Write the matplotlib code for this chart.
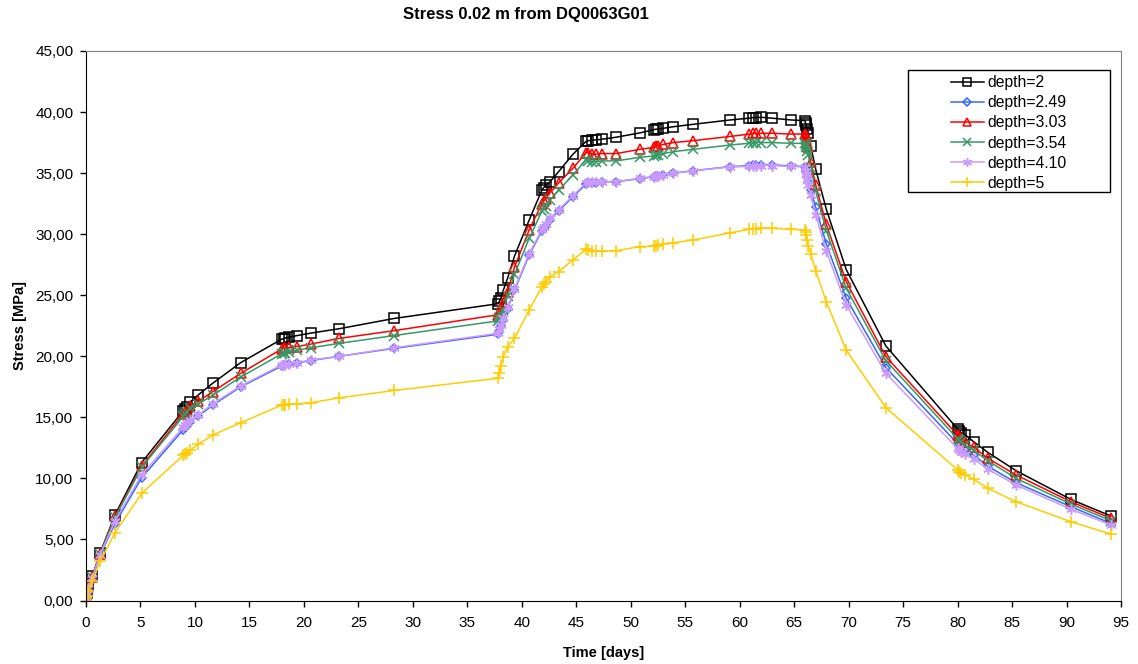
import matplotlib
matplotlib.use("Agg")
import matplotlib.pyplot as plt
from matplotlib.patches import Rectangle
from matplotlib.ticker import FuncFormatter, MultipleLocator

plt.rcParams['font.family'] = ['Liberation Sans', 'DejaVu Sans']

# sample times [days], shared by all depths
time_days = [
    0, 0.04, 0.08, 0.21, 0.58, 1.29, 2.66, 5.11,
    8.94, 9.1, 9.25, 9.55, 10.3, 11.63, 14.2,
    17.96, 18.15, 18.3, 18.6, 19.34, 20.66, 23.26, 28.3,
    37.8, 37.95, 38.1, 38.3, 38.7, 39.33, 40.68,
    41.85, 42.0, 42.2, 42.6, 43.38, 44.7,
    45.9, 46.1, 46.4, 46.8, 47.35, 48.67, 50.87,
    52.1, 52.3, 52.5, 53.0, 53.92, 55.76, 59.1,
    60.9, 61.2, 61.5, 62.0, 62.96, 64.74, 66.0,
    66.05, 66.1, 66.2, 66.3, 66.52, 66.98, 67.95, 69.78,
    73.42, 80.0, 80.15, 80.3, 80.72, 81.48, 82.77, 85.37, 90.4, 94.07,
]

stress_d200 = [
    0, 0.35, 0.6, 1.15, 2.0, 3.87, 7.0, 11.3,
    15.55, 15.7, 15.85, 16.25, 16.83, 17.79, 19.48,
    21.4, 21.45, 21.5, 21.55, 21.69, 21.9, 22.26, 23.1,
    24.3, 24.5, 24.8, 25.4, 26.4, 28.2, 31.16,
    33.62, 33.8, 34.0, 34.3, 35.12, 36.55,
    37.6, 37.65, 37.7, 37.72, 37.77, 37.94, 38.3,
    38.55, 38.6, 38.6, 38.67, 38.8, 39.0, 39.35,
    39.5, 39.55, 39.55, 39.57, 39.5, 39.35, 39.3,
    39.1, 38.9, 38.6, 38.26, 37.22, 35.3, 32.04, 27.1,
    20.84, 14.05, 13.9, 13.75, 13.55, 13.0, 12.13, 10.63, 8.28, 6.92,
]

stress_d249 = [
    0, 0.3, 0.55, 1.05, 1.85, 3.7, 6.3, 10.06,
    14.0, 14.15, 14.3, 14.65, 15.1, 16.0, 17.5,
    19.2, 19.25, 19.3, 19.35, 19.45, 19.65, 20.0, 20.65,
    21.8, 22.1, 22.5, 23.0, 23.9, 25.4, 28.3,
    30.3, 30.5, 30.7, 31.2, 31.9, 33.07,
    34.1, 34.15, 34.15, 34.2, 34.3, 34.3, 34.55,
    34.7, 34.75, 34.8, 34.85, 34.99, 35.2, 35.53,
    35.6, 35.65, 35.65, 35.67, 35.67, 35.59, 35.53,
    35.3, 35.1, 34.7, 34.3, 33.6, 32.2, 29.2, 24.75,
    19.07, 12.85, 12.75, 12.6, 12.3, 11.9, 11.0, 9.65, 7.68, 6.32,
]

stress_d303 = [
    0, 0.33, 0.58, 1.12, 1.95, 3.82, 6.9, 11.0,
    15.3, 15.45, 15.6, 15.95, 16.3, 17.1, 18.6,
    20.6, 20.65, 20.7, 20.72, 20.8, 21.0, 21.47, 22.1,
    23.4, 23.6, 23.9, 24.4, 25.3, 27.3, 30.35,
    32.5, 32.7, 32.9, 33.4, 34.2, 35.4,
    36.68, 36.65, 36.6, 36.55, 36.6, 36.6, 36.95,
    37.1, 37.2, 37.25, 37.35, 37.5, 37.66, 38.0,
    38.2, 38.25, 38.25, 38.26, 38.26, 38.2, 38.2,
    38.1, 37.8, 37.5, 37.17, 35.9, 34.0, 30.8, 26.1,
    19.97, 13.55, 13.45, 13.3, 12.95, 12.55, 11.65, 10.28, 8.09, 6.73,
]

stress_d354 = [
    0, 0.32, 0.57, 1.1, 1.93, 3.8, 6.8, 10.9,
    15.1, 15.25, 15.4, 15.75, 16.1, 16.8, 18.3,
    20.2, 20.25, 20.3, 20.35, 20.5, 20.7, 21.06, 21.7,
    22.9, 23.1, 23.4, 23.8, 24.9, 26.7, 29.66,
    31.9, 32.1, 32.3, 32.8, 33.6, 34.85,
    36.1, 36.0, 35.95, 35.95, 36.0, 36.0, 36.3,
    36.4, 36.45, 36.5, 36.6, 36.76, 36.95, 37.3,
    37.45, 37.5, 37.5, 37.5, 37.5, 37.44, 37.44,
    37.3, 37.1, 36.8, 36.5, 35.4, 33.5, 30.3, 25.57,
    19.64, 13.25, 13.15, 13.0, 12.7, 12.3, 11.45, 10.0, 7.9, 6.54,
]

stress_d410 = [
    0, 0.3, 0.55, 1.06, 1.87, 3.75, 6.5, 10.3,
    14.2, 14.35, 14.5, 14.8, 15.2, 16.1, 17.57,
    19.29, 19.32, 19.35, 19.4, 19.47, 19.7, 20.0, 20.7,
    21.88, 22.2, 22.6, 23.1, 24.0, 25.5, 28.4,
    30.4, 30.6, 30.8, 31.3, 32.0, 33.15,
    34.2, 34.25, 34.25, 34.25, 34.3, 34.3, 34.58,
    34.72, 34.77, 34.8, 34.88, 34.99, 35.2, 35.5,
    35.55, 35.6, 35.6, 35.62, 35.62, 35.55, 35.5,
    35.2, 34.9, 34.4, 34.0, 33.2, 31.6, 28.6, 24.2,
    18.6, 12.45, 12.33, 12.2, 12.0, 11.6, 10.75, 9.46, 7.47, 6.18,
]

stress_d500 = [
    0, 0.2, 0.4, 0.8, 1.6, 3.2, 5.55, 8.78,
    11.9, 12.0, 12.1, 12.3, 12.8, 13.55, 14.56,
    16.0, 16.02, 16.05, 16.08, 16.1, 16.2, 16.6, 17.2,
    18.2, 18.6, 19.2, 19.97, 20.8, 21.47, 23.8,
    25.7, 25.9, 26.1, 26.5, 26.93, 27.9,
    28.76, 28.7, 28.65, 28.6, 28.6, 28.65, 28.98,
    29.0, 29.05, 29.1, 29.2, 29.3, 29.52, 30.1,
    30.4, 30.45, 30.45, 30.48, 30.48, 30.4, 30.34,
    30.2, 29.9, 29.5, 29.0, 28.4, 27.0, 24.47, 20.5,
    15.79, 10.7, 10.55, 10.45, 10.28, 9.92, 9.19, 8.09, 6.45, 5.44,
]

labels = ["depth=2", "depth=2.49", "depth=3.03", "depth=3.54", "depth=4.10", "depth=5"]
series = [stress_d200, stress_d249, stress_d303, stress_d354, stress_d410, stress_d500]

# (colour, marker, size, open marker?)
styles = [
    ("#000000", "s", 7, True),
    ("#3366FF", "D", 4.5, True),
    ("#FF0000", "^", 6.5, True),
    ("#339966", "x", 6.5, False),
    ("#CC99FF", (6, 2, 0), 7.5, False),
    ("#FFCC00", "+", 8, False),
]

W, H = 1138, 664
fig = plt.figure(figsize=(W / 100, H / 100), dpi=100)
ax = fig.add_axes([86 / W, 1 - 600.5 / H, (1121 - 86) / W, (600.5 - 51) / H])

for vals, lab, (col, mk, ms, hollow) in zip(series, labels, styles):
    ax.plot(time_days, vals, color=col, lw=1.1, marker=mk, ms=ms,
            mfc="none" if hollow else col, mec=col, mew=1.1, label=lab)

ax.set_xlim(0, 95)
ax.set_ylim(0, 45)
ax.xaxis.set_major_locator(MultipleLocator(5))
ax.yaxis.set_major_locator(MultipleLocator(5))
ax.yaxis.set_major_formatter(FuncFormatter(lambda v, p: f"{v:.2f}".replace(".", ",")))
ax.tick_params(direction="out", length=4, width=1, labelsize=11)
ax.tick_params(axis="x", pad=7)
ax.tick_params(axis="y", pad=5)

for side in ("top", "right"):
    ax.spines[side].set_color("#808080")
for side in ("left", "bottom"):
    ax.spines[side].set_color("black")

ax.set_xlabel("Time [days]", fontsize=10.5, fontweight="bold", labelpad=12)
ax.set_ylabel("Stress [MPa]", fontsize=10.5, fontweight="bold", labelpad=6)
fig.text(526 / W, 1 - 15 / H, "Stress 0.02 m from DQ0063G01",
         ha="center", va="center", fontsize=12, fontweight="bold")

# legend box drawn separately so the entries sit centred inside it
box = Rectangle((908 / W, 1 - 192 / H), (1110 - 908) / W, (192 - 70) / H,
                transform=fig.transFigure, facecolor="white",
                edgecolor="black", lw=1.0, zorder=5, clip_on=False)
ax.add_patch(box)
leg = ax.legend(loc="center", bbox_to_anchor=(1009 / W, 1 - 133 / H),
                bbox_transform=fig.transFigure, fontsize=11.3, frameon=False,
                borderpad=0, labelspacing=0.32, handlelength=2.1,
                handletextpad=0.25, borderaxespad=0, markerscale=0.85)
leg.set_zorder(6)

fig.savefig("out.png", dpi=100)
